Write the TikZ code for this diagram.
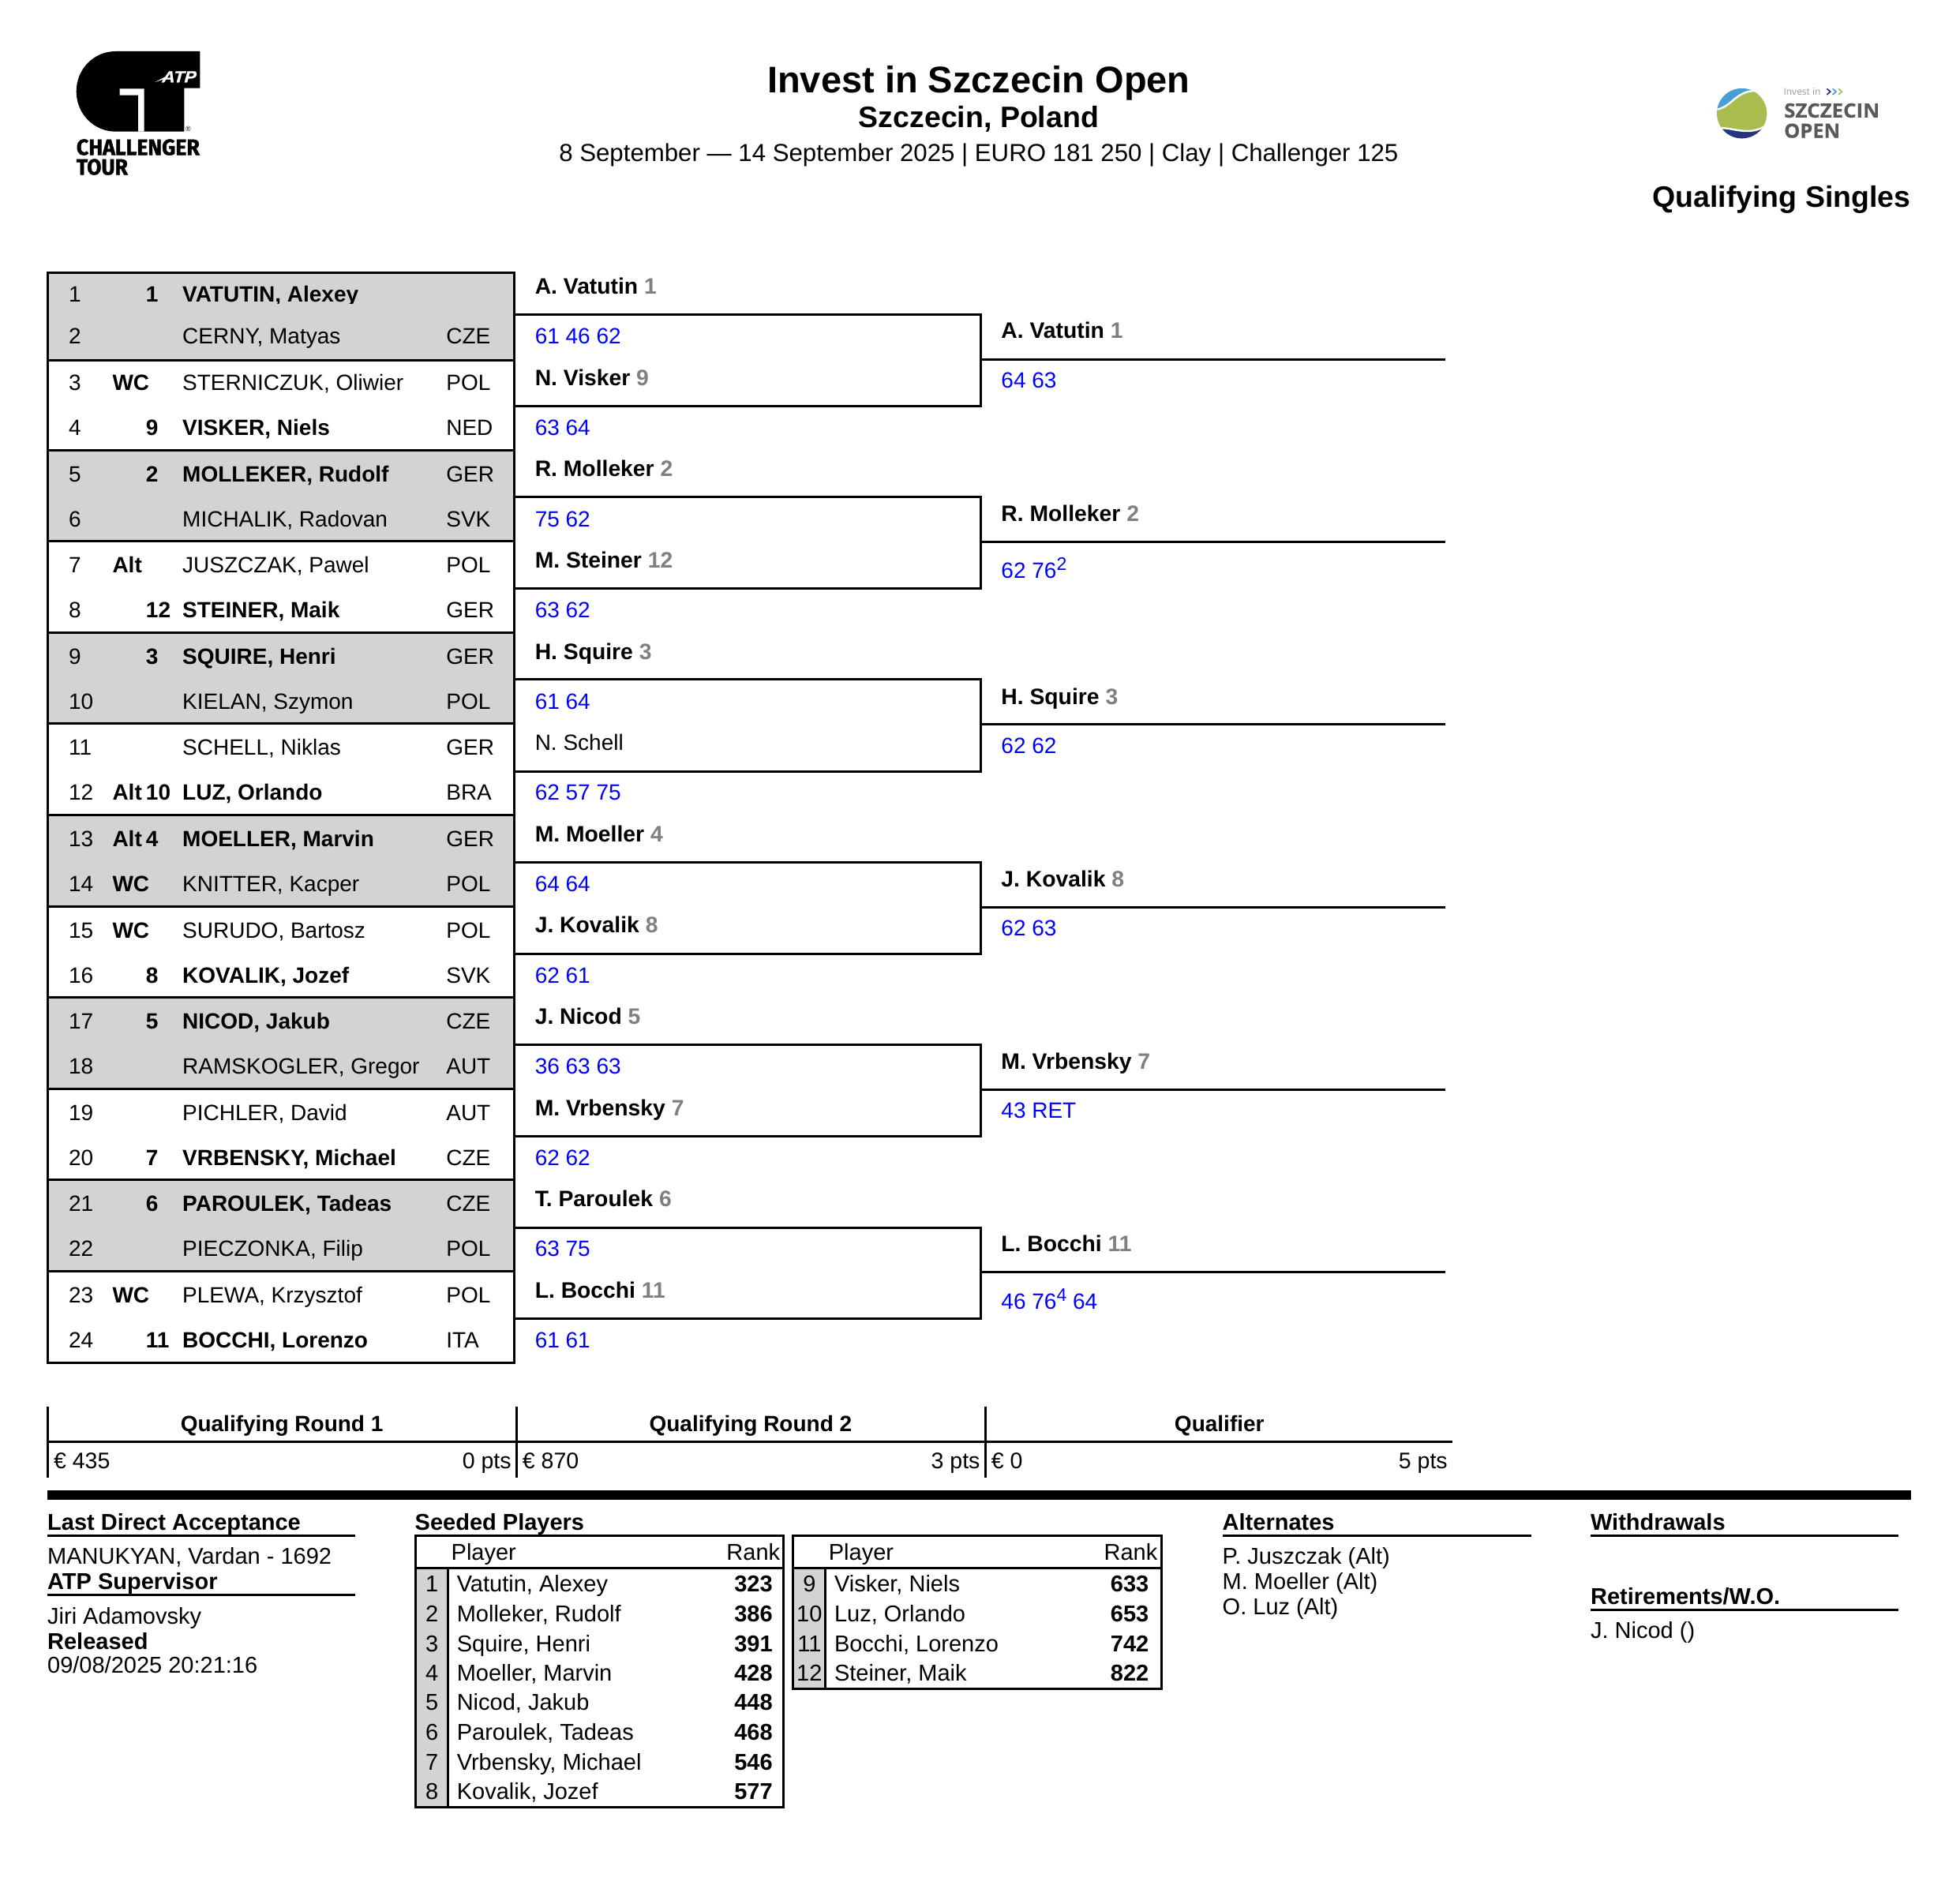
\documentclass[tikz,border=0pt]{standalone}
\usepackage{fontspec}
\setmainfont{Liberation Sans}
\newfontfamily\logofont[BoldFeatures={FakeBold=1.5}]{Fira Sans}
\newfontfamily\atpfont[BoldFeatures={FakeBold=1.2,FakeSlant=0.25}]{Liberation Sans}
\newfontfamily\szfont[BoldFeatures={FakeBold=0.6}]{Open Sans}
\definecolor{groupgray}{HTML}{D3D3D3}
\definecolor{seedgray}{HTML}{808080}
\definecolor{scoreblue}{HTML}{0000FF}
\definecolor{ballgreen}{HTML}{A9BD4E}
\definecolor{ballblue}{HTML}{459FD9}
\definecolor{ballnavy}{HTML}{243383}
\definecolor{szgray}{HTML}{575A5C}
\newcommand\fs[1]{\fontsize{#1pt}{#1pt}\selectfont}
\tikzset{
  lbl/.style={inner sep=0pt,outer sep=0pt,anchor=base west,font=\fs{28}},
  lblr/.style={lbl,anchor=base east},
  lblc/.style={lbl,anchor=base},
  blbl/.style={lbl,font=\fs{28}\bfseries},
  blblr/.style={blbl,anchor=base east},
  blblc/.style={blbl,anchor=base},
  advlbl/.style={lbl,font=\fs{28.3}\bfseries},
  note/.style={lbl,font=\fs{29}},
  noter/.style={note,anchor=base east},
  notec/.style={note,anchor=base},
  bnote/.style={lbl,font=\fs{29}\bfseries},
  bnoter/.style={bnote,anchor=base east},
  prize/.style={lbl,font=\fs{28.5}},
  prizer/.style={prize,anchor=base east},
  score/.style={lbl,text=scoreblue},
  rule/.style={line width=3pt,black},
}
\newcommand\plrow[6]{%
  \pgfmathsetmacro\yb{#1+6.3}%
  \node[lbl] (num#2) at (55,\yb) {#2};
  \def\tmpa{#3}\ifx\tmpa\empty\else\node[blbl] (tag#2) at (90,\yb) {#3};\fi
  \def\tmpa{#4}\ifx\tmpa\empty\else\node[blbl] (seed#2) at (116.8,\yb) {#4};\fi
  \node[lbl] (name#2) at (146,\yb) {#5};
  \def\tmpa{#6}\ifx\tmpa\empty\else\node[lbl] (ctry#2) at (357,\yb) {#6};\fi
}
\newcommand\adv[5]{%
  \pgfmathsetmacro\yb{#3+6.3}%
  \node[advlbl] (#1) at (#2,\yb) {#4\def\tmpa{#5}\ifx\tmpa\empty\else\ {\color{seedgray}#5}\fi};
}
\newcommand\advn[4]{%
  \pgfmathsetmacro\yb{#3+6.3}%
  \node[lbl] (#1) at (#2,\yb) {#4};
}
\newcommand\scr[4]{%
  \pgfmathsetmacro\yb{#3+6.3}%
  \node[score] (#1) at (#2,\yb) {#4};
}
\newcommand\supn[1]{\raisebox{10pt}{\fs{23}#1}}
\newcommand\bracket[3]{%
  \coordinate (#1a) at (412,#2);
  \coordinate (#1b) at (784.5,#2);
  \coordinate (#1c) at (412,#3);
  \coordinate (#1d) at (784.5,#3);
  \coordinate (#1e) at (1156.5,{(#2+#3)/2-0.7});
  \coordinate (#1f) at (784.5,{(#2+#3)/2-0.7});
  \draw[rule] (#1a) -- (#1b) -- (#1d) -- (#1c);
  \draw[rule] (#1f) -- (#1e);
}
\newcommand\seedrow[7]{%
  \pgfmathsetmacro\yb{#4+6.3}%
  \node[notec] (sn#5) at (#1,\yb) {#5};
  \node[note] (sname#5) at (#2,\yb) {#6};
  \node[bnoter] (srank#5) at (#3,\yb) {#7};
}
\begin{document}
\begin{tikzpicture}[x=1.58355pt,y=-1.58355pt]
\useasboundingbox (0,0) rectangle (1568,1520);

% ---- Challenger logo
\begin{scope}[x=1pt,y=-1pt]
\fill[black] (146.7,65) -- (253.3,65) -- (253.3,111.7) -- (233.3,111.7) -- (233.3,166.7) -- (146.7,166.7)
  .. controls (118.6,166.7) and (96.7,143.9) .. (96.7,115.8) .. controls (96.7,87.7) and (118.6,65) .. (146.7,65) -- cycle;
\fill[white] (151.7,112.3) -- (182.7,112.3) -- (182.7,166.7) -- (175,166.7) -- (175,120.7) -- (151.7,120.7) -- cycle;
\fill[white] (196.5,104) -- (210,97) -- (212,99) -- cycle;
\node[inner sep=0pt,anchor=south west,text=white] (atp) at (204,104.5) {\resizebox{43pt}{14pt}{\atpfont\bfseries ATP}};
\node[inner sep=0pt,anchor=center,font=\fs{9}] (regmark) at (238.5,163.5) {®};
\node[inner sep=0pt,anchor=south west] (chal) at (96.7,197) {\resizebox{156pt}{20pt}{\logofont\bfseries CHALLENGER}};
\node[inner sep=0pt,anchor=south west] (tour) at (96.7,222) {\resizebox{65pt}{20pt}{\logofont\bfseries TOUR}};
\end{scope}

% ---- Szczecin logo
\begin{scope}[shift={(2130pt,-80pt)},x=0.3333pt,y=-0.3333pt]
\begin{scope}
\clip (230,191) circle[radius=95*0.3333pt];
\fill[ballgreen] (120,80) rectangle (340,300);
\fill[ballblue] (120,178) .. controls (190,175) and (200,108) .. (278,105) -- (278,80) -- (120,80) -- cycle;
\draw[white,line width=2.4pt] (120,178) .. controls (190,175) and (200,108) .. (278,105);
\fill[ballnavy] (150,247) .. controls (200,245) and (260,280) .. (325,235) -- (340,300) -- (120,300) -- cycle;
\draw[white,line width=2.4pt] (150,247) .. controls (200,245) and (260,280) .. (325,235);
\end{scope}
\draw[ballnavy,line width=1.7pt] (553,97) -- (566,108.5) -- (553,120);
\draw[ballblue,line width=1.7pt] (575,97) -- (588,108.5) -- (575,120);
\draw[ballgreen,line width=1.7pt] (597,97) -- (610,108.5) -- (597,120);
\node[inner sep=0pt,anchor=base west,text=black!40,font=\szfont\fs{12}] (invest) at (388,122) {Invest in};
\node[inner sep=0pt,anchor=south west,text=szgray] (szc) at (390,208) {\resizebox{121pt}{18pt}{\szfont\bfseries SZCZECIN}};
\node[inner sep=0pt,anchor=south west,text=szgray] (opn) at (390,285) {\resizebox{71pt}{18pt}{\szfont\bfseries OPEN}};
\end{scope}

% ---- Heading
\node[lblc,font=\fs{47}\bfseries] (title) at (783,74) {Invest in Szczecin Open};
\node[lblc,font=\fs{37.5}\bfseries] (place) at (783,102) {Szczecin, Poland};
\node[lblc,font=\fs{31.2}] (dates) at (783,129) {8 September — 14 September 2025 | EURO 181 250 | Clay | Challenger 125};
\node[lblr,font=\fs{37.5}\bfseries] (draw) at (1528.5,166) {Qualifying Singles};

% ---- Draw table shading
\foreach \t/\b in {218/288.5,360.5/433,506/579,652/725,798/871,944/1017}
  \fill[groupgray] (38.5,\t) rectangle (411.5,\b);

% ---- First round rows
\begin{scope}
\clip (38,218) rectangle (412,243);
\node[blbl] (name1) at (146,241.3) {VATUTIN, Alexey};
\end{scope}
\node[lbl] (num1) at (55,241.3) {1};
\node[blbl] (seed1) at (116.8,241.3) {1};
\plrow{269}{2}{}{}{CERNY, Matyas}{CZE}
\plrow{306}{3}{WC}{}{STERNICZUK, Oliwier}{POL}
\plrow{342}{4}{}{9}{\bfseries VISKER, Niels}{NED}
\plrow{379}{5}{}{2}{\bfseries MOLLEKER, Rudolf}{GER}
\plrow{415}{6}{}{}{MICHALIK, Radovan}{SVK}
\plrow{452}{7}{Alt}{}{JUSZCZAK, Pawel}{POL}
\plrow{488}{8}{}{12}{\bfseries STEINER, Maik}{GER}
\plrow{525}{9}{}{3}{\bfseries SQUIRE, Henri}{GER}
\plrow{561}{10}{}{}{KIELAN, Szymon}{POL}
\plrow{598}{11}{}{}{SCHELL, Niklas}{GER}
\plrow{634}{12}{Alt}{10}{\bfseries LUZ, Orlando}{BRA}
\plrow{671}{13}{Alt}{4}{\bfseries MOELLER, Marvin}{GER}
\plrow{707}{14}{WC}{}{KNITTER, Kacper}{POL}
\plrow{744}{15}{WC}{}{SURUDO, Bartosz}{POL}
\plrow{780}{16}{}{8}{\bfseries KOVALIK, Jozef}{SVK}
\plrow{817}{17}{}{5}{\bfseries NICOD, Jakub}{CZE}
\plrow{853}{18}{}{}{RAMSKOGLER, Gregor}{AUT}
\plrow{890}{19}{}{}{PICHLER, David}{AUT}
\plrow{926}{20}{}{7}{\bfseries VRBENSKY, Michael}{CZE}
\plrow{963}{21}{}{6}{\bfseries PAROULEK, Tadeas}{CZE}
\plrow{999}{22}{}{}{PIECZONKA, Filip}{POL}
\plrow{1036}{23}{WC}{}{PLEWA, Krzysztof}{POL}
\plrow{1072}{24}{}{11}{\bfseries BOCCHI, Lorenzo}{ITA}

% ---- Draw table rules
\draw[rule] (38.5,218) rectangle (411.5,1090.5);
\foreach \y in {288.5,360.5,433,506,579,652,725,798,871,944,1017}
  \draw[rule] (38.5,\y) -- (411.5,\y);

% ---- Brackets
\bracket{qa}{251.5}{325}
\bracket{qb}{397.5}{471}
\bracket{qc}{543.5}{617}
\bracket{qd}{690}{763}
\bracket{qe}{836}{909}
\bracket{qf}{982}{1055}

% ---- Round 2
\adv{ra}{428}{229}{A. Vatutin}{1}
\scr{sa}{428}{269}{61 46 62}
\adv{rb}{428}{302}{N. Visker}{9}
\scr{sb}{428}{342}{63 64}
\adv{rc}{428}{375}{R. Molleker}{2}
\scr{sc}{428}{415}{75 62}
\adv{rd}{428}{448}{M. Steiner}{12}
\scr{sd}{428}{488}{63 62}
\adv{re}{428}{521}{H. Squire}{3}
\scr{se}{428}{561}{61 64}
\advn{rf}{428}{594}{N. Schell}
\scr{sf}{428}{634}{62 57 75}
\adv{rg}{428}{667}{M. Moeller}{4}
\scr{sg}{428}{707}{64 64}
\adv{rh}{428}{740}{J. Kovalik}{8}
\scr{sh}{428}{780}{62 61}
\adv{ri}{428}{813}{J. Nicod}{5}
\scr{si}{428}{853}{36 63 63}
\adv{rj}{428}{886}{M. Vrbensky}{7}
\scr{sj}{428}{926}{62 62}
\adv{rk}{428}{959}{T. Paroulek}{6}
\scr{sk}{428}{999}{63 75}
\adv{rl}{428}{1032}{L. Bocchi}{11}
\scr{sl}{428}{1072}{61 61}

% ---- Qualifiers
\adv{ta}{801}{264.5}{A. Vatutin}{1}
\scr{ua}{801}{304}{64 63}
\adv{tb}{801}{410.5}{R. Molleker}{2}
\scr{ub}{801}{456}{62 76\supn{2}}
\adv{tc}{801}{557}{H. Squire}{3}
\scr{uc}{801}{596.5}{62 62}
\adv{td}{801}{703}{J. Kovalik}{8}
\scr{ud}{801}{742.5}{62 63}
\adv{te}{801}{849}{M. Vrbensky}{7}
\scr{ue}{801}{888.5}{43 RET}
\adv{tf}{801}{995}{L. Bocchi}{11}
\scr{uf}{801}{1041}{46 76\supn{4} 64}

% ---- Prize table
\draw[rule] (38.5,1125) -- (38.5,1182);
\draw[rule] (413.5,1125) -- (413.5,1182);
\draw[rule] (788.5,1125) -- (788.5,1182);
\draw[rule] (38,1153.5) -- (1162,1153.5);
\node[blblc] (h1) at (225.5,1145) {Qualifying Round 1};
\node[blblc] (h2) at (600.5,1145) {Qualifying Round 2};
\node[blblc] (h3) at (975.5,1145) {Qualifier};
\node[prize] (p1) at (43,1175) {€ 435};
\node[prizer] (q1) at (409,1175) {0 pts};
\node[prize] (p2) at (418,1175) {€ 870};
\node[prizer] (q2) at (784,1175) {3 pts};
\node[prize] (p3) at (793,1175) {€ 0};
\node[prizer] (q3) at (1158,1175) {5 pts};
\fill[black] (38,1192.3) rectangle (1529,1200);

% ---- Left notes
\node[bnote] (lda) at (38,1224) {Last Direct Acceptance};
\draw[rule] (38,1228.5) -- (284,1228.5);
\node[note] (ldav) at (38,1251.5) {MANUKYAN, Vardan - 1692};
\node[bnote] (sup) at (38,1271.5) {ATP Supervisor};
\draw[rule] (38,1276) -- (284,1276);
\node[note] (supv) at (38,1299.5) {Jiri Adamovsky};
\node[bnote] (rel) at (38,1319.5) {Released};
\node[note] (relv) at (38,1338.5) {09/08/2025 20:21:16};

% ---- Seed tables
\node[bnote] (seedh) at (332,1224) {Seeded Players};
\fill[groupgray] (332.5,1254.5) rectangle (358.5,1446);
\fill[groupgray] (634.5,1254.5) rectangle (660.5,1351);
\draw[rule] (332.5,1228.5) rectangle (627,1446);
\draw[rule] (332.5,1254.5) -- (627,1254.5);
\draw[rule] (358.5,1254.5) -- (358.5,1446);
\draw[rule] (634.5,1228.5) rectangle (929,1351);
\draw[rule] (634.5,1254.5) -- (929,1254.5);
\draw[rule] (660.5,1254.5) -- (660.5,1351);
\node[note] (pa) at (361,1248) {Player};
\node[noter] (ra1) at (624,1248) {Rank};
\node[note] (pb) at (663,1248) {Player};
\node[noter] (ra2) at (926,1248) {Rank};
\seedrow{345.5}{365.5}{618}{1267}{1}{Vatutin, Alexey}{323}
\seedrow{345.5}{365.5}{618}{1291}{2}{Molleker, Rudolf}{386}
\seedrow{345.5}{365.5}{618}{1315}{3}{Squire, Henri}{391}
\seedrow{345.5}{365.5}{618}{1338.5}{4}{Moeller, Marvin}{428}
\seedrow{345.5}{365.5}{618}{1362}{5}{Nicod, Jakub}{448}
\seedrow{345.5}{365.5}{618}{1386}{6}{Paroulek, Tadeas}{468}
\seedrow{345.5}{365.5}{618}{1409.5}{7}{Vrbensky, Michael}{546}
\seedrow{345.5}{365.5}{618}{1433}{8}{Kovalik, Jozef}{577}
\seedrow{647.5}{667.5}{919}{1267}{9}{Visker, Niels}{633}
\seedrow{647.5}{667.5}{919}{1291}{10}{Luz, Orlando}{653}
\seedrow{647.5}{667.5}{919}{1315}{11}{Bocchi, Lorenzo}{742}
\seedrow{647.5}{667.5}{919}{1338.5}{12}{Steiner, Maik}{822}

% ---- Alternates, withdrawals
\node[bnote] (alth) at (978,1224) {Alternates};
\draw[rule] (978,1228.5) -- (1225,1228.5);
\node[note] (alt1) at (978,1251.5) {P. Juszczak (Alt)};
\node[note] (alt2) at (978,1271.5) {M. Moeller (Alt)};
\node[note] (alt3) at (978,1291.5) {O. Luz (Alt)};
\node[bnote] (wdh) at (1272.5,1224) {Withdrawals};
\draw[rule] (1272.5,1228.5) -- (1519,1228.5);
\node[bnote] (reth) at (1272.5,1283.5) {Retirements/W.O.};
\draw[rule] (1272.5,1288) -- (1519,1288);
\node[note] (ret1) at (1272.5,1310.5) {J. Nicod ()};
\end{tikzpicture}
\end{document}
